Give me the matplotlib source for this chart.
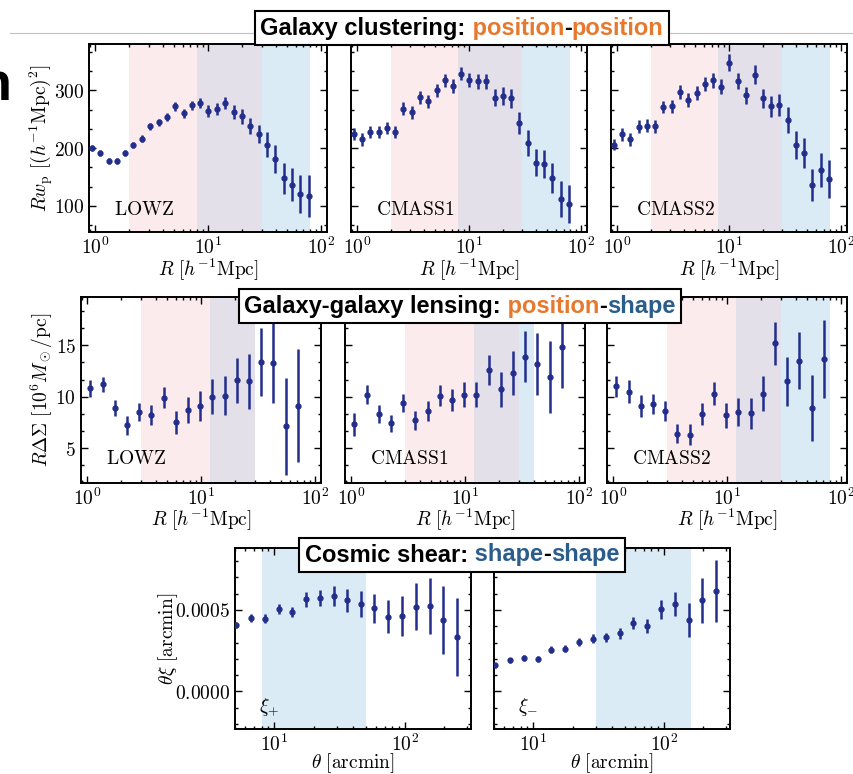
import math
import matplotlib
matplotlib.use("Agg")
import matplotlib.pyplot as plt
from matplotlib.ticker import FixedLocator, FuncFormatter, AutoMinorLocator, LogLocator, NullFormatter
from matplotlib.offsetbox import TextArea, HPacker, AnnotationBbox
from matplotlib.lines import Line2D

plt.rcParams['mathtext.fontset'] = 'cm'

W, H = 854, 774
PT_COLOR = '#222d8c'
PINK = '#fcebec'
PURPLE = '#e4e0e9'
BLUE = '#daebf5'
ORANGE = '#e6792e'
BLUE_T = '#2b5d8c'

# galaxy clustering: R w_p
R_clust = [0.935, 1.11, 1.32, 1.56, 1.85, 2.19, 2.60, 3.08, 3.65, 4.33, 5.13, 6.08, 7.21, 8.55,
           10.1, 12.0, 14.2, 16.9, 20.0, 23.7, 28.1, 33.3, 39.5, 46.9, 55.5, 65.8, 78.1]
wp_lowz = [200, 192, 178, 178, 192, 206, 216, 238, 245, 254, 272, 260, 274, 278,
           264, 268, 278, 262, 255, 238, 224, 206, 181, 148, 137, 120, 117]
wp_lowz_err = [5, 5, 5, 5, 5, 5, 6, 6, 6, 7, 8, 8, 8, 9,
               10, 10, 11, 12, 13, 14, 16, 22, 24, 27, 29, 33, 36]
wp_cmass1 = [224, 215, 228, 228, 235, 228, 268, 262, 288, 281, 300, 317, 307, 329,
             318, 316, 316, 287, 290, 286, 244, 209, 175, 173, 149, 112, 103]
wp_cmass1_err = [10, 11, 10, 10, 10, 10, 11, 11, 11, 11, 11, 11, 12, 12,
                 12, 13, 13, 15, 16, 17, 19, 23, 23, 24, 26, 31, 33]
wp_cmass2 = [206, 224, 215, 237, 239, 238, 271, 272, 297, 283, 295, 311, 317, 306,
             348, 316, 291, 327, 286, 272, 274, 249, 206, 192, 136, 162, 147]
wp_cmass2_err = [10, 11, 11, 11, 11, 11, 11, 11, 12, 12, 12, 12, 13, 13,
                 14, 14, 15, 16, 17, 18, 19, 22, 24, 26, 28, 30, 33]

# galaxy-galaxy lensing: R DeltaSigma
R_lens = [1.07, 1.37, 1.75, 2.24, 2.87, 3.67, 4.70, 6.01, 7.69, 9.84, 12.6, 16.1, 20.6,
          26.4, 33.7, 43.2, 55.2, 70.6]
ds_lowz = [10.8, 11.2, 8.9, 7.2, 8.5, 8.2, 9.9, 7.5, 8.7, 9.1, 10.0, 10.1, 11.6, 11.5,
           13.4, 13.3, 7.1, 9.1]
ds_lowz_err = [0.8, 0.7, 0.8, 0.9, 0.85, 0.95, 1.0, 1.1, 1.3, 1.45, 1.7, 1.9, 2.2, 2.7,
               3.3, 3.9, 4.7, 5.5]
ds_cmass1 = [7.3, 10.2, 8.3, 7.4, 9.4, 7.7, 8.6, 10.1, 9.7, 10.2, 10.2, 12.6, 10.7, 12.3,
             13.9, 13.2, 11.9, 14.8]
ds_cmass1_err = [1.1, 0.9, 0.85, 0.85, 0.9, 0.9, 1.0, 1.0, 1.05, 1.2, 1.25, 1.5, 1.75, 2.1,
                 2.5, 3.0, 3.5, 4.0]
ds_cmass2 = [11.0, 10.5, 9.1, 9.3, 8.6, 6.4, 6.3, 8.3, 10.3, 8.2, 8.5, 8.4, 10.3, 15.2,
             11.5, 13.5, 8.9, 13.7]
ds_cmass2_err = [1.05, 1.15, 1.05, 1.0, 1.0, 0.95, 1.0, 1.05, 1.1, 1.2, 1.35, 1.5, 1.7, 2.1,
                 2.4, 2.8, 3.2, 3.8]

# cosmic shear: theta xi
theta = [5.1, 6.59, 8.44, 10.8, 13.7, 17.5, 22.3, 28.4, 36.1, 45.9, 58.3, 74.6, 94.8,
         121, 155, 196, 249]
xip = [4.07e-4, 4.53e-4, 4.46e-4, 5.08e-4, 4.88e-4, 5.66e-4, 5.72e-4, 5.86e-4, 5.60e-4,
       5.39e-4, 5.10e-4, 4.59e-4, 4.63e-4, 5.21e-4, 5.25e-4, 4.38e-4, 3.35e-4]
xip_err = [2.0e-5, 2.5e-5, 2.7e-5, 3.1e-5, 3.1e-5, 4.5e-5, 5.0e-5, 6.0e-5, 7.0e-5,
           8.0e-5, 8.7e-5, 1.0e-4, 1.2e-4, 1.46e-4, 1.7e-4, 2.1e-4, 2.4e-4]
xim = [1.60e-4, 1.91e-4, 2.08e-4, 2.00e-4, 2.57e-4, 2.63e-4, 3.04e-4, 3.25e-4, 3.33e-4,
       3.56e-4, 4.18e-4, 4.01e-4, 5.04e-4, 5.35e-4, 4.38e-4, 5.60e-4, 6.17e-4]
xim_err = [1.6e-5, 1.6e-5, 1.8e-5, 1.8e-5, 2.0e-5, 2.2e-5, 2.4e-5, 2.6e-5, 2.8e-5,
           3.2e-5, 3.7e-5, 4.5e-5, 6.0e-5, 7.4e-5, 1.03e-4, 1.38e-4, 1.9e-4]

# scale cuts shaded in each panel
bands_clust = [(2, 8, PINK), (8, 30, PURPLE), (30, 80, BLUE)]
bands_lens = {'LOWZ': [(3, 12, PINK), (12, 30, PURPLE)],
              'CMASS1': [(3, 12, PINK), (12, 30, PURPLE), (30, 40, BLUE)],
              'CMASS2': [(3, 12, PINK), (12, 30, PURPLE), (30, 80, BLUE)]}
bands_shear = {'xip': [(8, 50, BLUE)], 'xim': [(30, 160, BLUE)]}

fig = plt.figure(figsize=(W / 100, H / 100), dpi=100)


def add_ax(l, t, r, b):
    return fig.add_axes([l / W, 1 - b / H, (r - l) / W, (b - t) / H])


def pow_fmt(v, pos):
    return r'$10^{%d}$' % round(math.log10(v))


def style(ax, xlim, ylim, yticks, yfmt, nminor, show_y):
    ax.set_xscale('log')
    ax.set_xlim(*xlim)
    ax.set_ylim(*ylim)
    ax.xaxis.set_major_locator(LogLocator(base=10))
    ax.xaxis.set_minor_locator(LogLocator(base=10, subs=range(2, 10)))
    ax.xaxis.set_major_formatter(FuncFormatter(pow_fmt))
    ax.xaxis.set_minor_formatter(NullFormatter())
    ax.yaxis.set_major_locator(FixedLocator(yticks))
    ax.yaxis.set_minor_locator(AutoMinorLocator(nminor))
    ax.yaxis.set_major_formatter(FuncFormatter(lambda v, p: '$' + (yfmt % v) + '$'))
    ax.tick_params(which='both', direction='in', top=True, right=True, labelsize=14, width=1)
    ax.tick_params(which='major', length=5)
    ax.tick_params(which='minor', length=2.5)
    ax.tick_params(labelleft=show_y)
    for s in ax.spines.values():
        s.set_linewidth(1.4)


def panel(ax, x, y, e, bands, name, nx, ny):
    for lo, hi, c in bands:
        ax.axvspan(lo, hi, color=c, lw=0, zorder=0)
    ax.errorbar(x, y, yerr=e, fmt='o', ms=3.5, color=PT_COLOR, elinewidth=1.8, capsize=0,
                zorder=3)
    ax.text(nx, ny, name, transform=ax.transAxes, fontsize=14, ha='left', va='bottom')


def xlab(ax, text, ypos):
    ax.set_xlabel(text, fontsize=14)
    ax.xaxis.set_label_coords(0.5, ypos, transform=ax.transAxes)
    ax.xaxis.label.set_va('top')


# top row
top = [(89, 44, 327, 232), (351, 44, 587, 232), (611, 44, 847, 232)]
clust = [('LOWZ', wp_lowz, wp_lowz_err), ('CMASS1', wp_cmass1, wp_cmass1_err),
         ('CMASS2', wp_cmass2, wp_cmass2_err)]
for i, (box, (name, y, e)) in enumerate(zip(top, clust)):
    ax = add_ax(*box)
    panel(ax, R_clust, y, e, bands_clust, r'$\mathrm{%s}$' % name, 0.105, 0.07)
    style(ax, (0.885, 113), (55, 380), [100, 200, 300], '%d', 3, i == 0)
    xlab(ax, r'$R\ [h^{-1}\mathrm{Mpc}]$', -0.135)
    if i == 0:
        ax.set_ylabel(r'$Rw_{\rm p}\ [(h^{-1}{\rm Mpc})^2]$', fontsize=14)
        ax.yaxis.set_label_coords(-0.143, 0.5)

# middle row
mid = [(81, 297, 321, 483), (345, 297, 585, 483), (607, 297, 847, 483)]
lens = [('LOWZ', ds_lowz, ds_lowz_err), ('CMASS1', ds_cmass1, ds_cmass1_err),
        ('CMASS2', ds_cmass2, ds_cmass2_err)]
for i, (box, (name, y, e)) in enumerate(zip(mid, lens)):
    ax = add_ax(*box)
    panel(ax, R_lens, y, e, bands_lens[name], r'$\mathrm{%s}$' % name, 0.105, 0.08)
    style(ax, (0.885, 113), (1.6, 19.7), [5, 10, 15], '%d', 3, i == 0)
    xlab(ax, r'$R\ [h^{-1}\mathrm{Mpc}]$', -0.13)
    if i == 0:
        ax.set_ylabel(r'$R\Delta\Sigma\ [10^6 M_\odot/{\rm pc}]$', fontsize=14)
        ax.yaxis.set_label_coords(-0.108, 0.5)

# bottom row
bot = [(235, 548, 471, 729), (494, 548, 730, 729)]
shear = [('xip', r'$\xi_{+}$', xip, xip_err), ('xim', r'$\xi_{-}$', xim, xim_err)]
for i, (box, (key, name, y, e)) in enumerate(zip(bot, shear)):
    ax = add_ax(*box)
    panel(ax, theta, y, e, bands_shear[key], name, 0.1, 0.06)
    style(ax, (5.0, 320), (-0.00023, 0.00088), [0.0, 0.0005], '%.4f', 5, i == 0)
    xlab(ax, r'$\theta\ [\mathrm{arcmin}]$', -0.125)
    if i == 0:
        ax.set_ylabel(r'$\theta\xi\ [\mathrm{arcmin}]$', fontsize=14)
        ax.yaxis.set_label_coords(-0.235, 0.5)

# slide leftovers: rule line and clipped heading letter
fig.add_artist(Line2D([10 / W, 256 / W], [1 - 33 / H] * 2, color='#c0c0c0', lw=0.8))
fig.add_artist(Line2D([667 / W, 1.0], [1 - 33 / H] * 2, color='#c0c0c0', lw=0.8))
fig.text(11 / W, 1 - 100 / H, 'n', ha='right', va='baseline', fontsize=39,
         fontweight='bold', family='Liberation Sans')

# section title boxes
titles = [
    (462, 28, [('Galaxy clustering:', 'black'), (' position', ORANGE), ('-', 'black'),
               ('position', ORANGE)]),
    (460, 306, [('Galaxy-galaxy lensing:', 'black'), (' position', ORANGE), ('-', 'black'),
                ('shape', BLUE_T)]),
    (462, 555, [('Cosmic shear:', 'black'), (' shape', BLUE_T), ('-', 'black'),
                ('shape', BLUE_T)]),
]
for cx, cy, parts in titles:
    areas = [TextArea(t, textprops=dict(color=c, fontsize=17, fontweight='bold',
                                        family='Liberation Sans')) for t, c in parts]
    pack = HPacker(children=areas, pad=0, sep=0, align='baseline')
    ab = AnnotationBbox(pack, (cx, H - cy), xycoords='figure pixels', frameon=True,
                        pad=0.4, box_alignment=(0.5, 0.5),
                        bboxprops=dict(boxstyle='square,pad=0.4', fc='white', ec='black', lw=1.5))
    ab.set_zorder(10)
    fig.add_artist(ab)

fig.savefig('out.png', dpi=100)
